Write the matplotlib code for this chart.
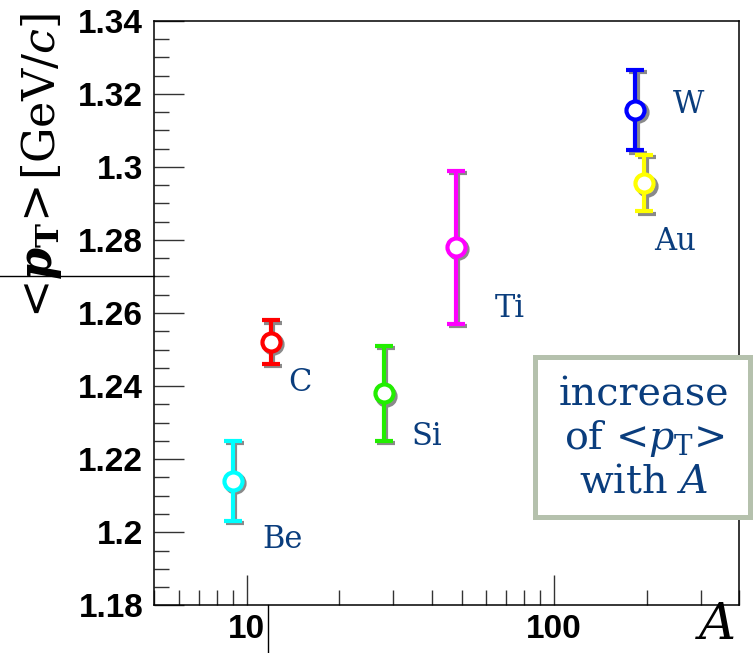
import matplotlib
matplotlib.use("Agg")
import matplotlib.pyplot as plt
import matplotlib.ticker as ticker
from matplotlib.transforms import offset_copy
from matplotlib.patches import Rectangle

plt.rcParams['mathtext.fontset'] = 'dejavuserif'

# mean pT vs nuclear mass number
nuclei = ["Be", "C", "Si", "Ti", "W", "Au"]
mass_A = [9, 12, 28, 48, 184, 197]
mean_pt = [1.214, 1.252, 1.238, 1.278, 1.3155, 1.2955]
pt_err = [0.011, 0.006, 0.013, 0.021, 0.011, 0.0077]
colors = ["#00ffff", "#ff0000", "#22ee00", "#ff00ff", "#0000ff", "#ffff00"]
# where each nucleus name sits relative to its point (points)
name_offsets = [(36, -42), (21, -29), (31, -31), (39, -44), (38, 4), (22, -42)]

yticks = [1.18, 1.2, 1.22, 1.24, 1.26, 1.28, 1.3, 1.32, 1.34]
label_blue = "#0a3d7d"

fig = plt.figure(figsize=(7.53, 6.53), dpi=100)
ax = fig.add_axes([0.2049, 0.0730, 0.7765, 0.8953])
ax.set_xscale("log")
ax.set_xlim(5, 400)
ax.set_ylim(1.18, 1.34)

# gray drop shadow shifted a couple of pixels right/down
shadow = offset_copy(ax.transData, fig=fig, x=2.2, y=-2.2, units='dots')
for i in range(len(nuclei)):
    ax.errorbar(mass_A[i], mean_pt[i], yerr=pt_err[i], fmt='o', color="#8a8a8a",
                ms=13, mfc='none', mec="#8a8a8a", mew=3, elinewidth=3,
                capsize=6.5, capthick=3, transform=shadow, zorder=2)
    ax.errorbar(mass_A[i], mean_pt[i], yerr=pt_err[i], fmt='o', color=colors[i],
                ms=13, mfc='white', mec=colors[i], mew=3, elinewidth=3,
                capsize=6.5, capthick=3, zorder=3)
    ax.annotate(nuclei[i], (mass_A[i], mean_pt[i]), xytext=name_offsets[i],
                textcoords='offset points', ha='center', va='center',
                fontsize=22, family='DejaVu Serif', color=label_blue)

ax.set_yticks(yticks)
ax.yaxis.set_minor_locator(ticker.MultipleLocator(0.005))
ax.yaxis.set_major_formatter(ticker.FuncFormatter(lambda v, p: "{:g}".format(round(v, 3))))
ax.xaxis.set_major_locator(ticker.LogLocator(base=10))
ax.xaxis.set_minor_locator(ticker.LogLocator(base=10, subs=range(2, 10)))
ax.xaxis.set_minor_formatter(ticker.NullFormatter())
ax.xaxis.set_major_formatter(ticker.FuncFormatter(lambda v, p: "{:g}".format(v)))

ax.tick_params(which='both', direction='in', top=False, right=False, width=1, color="#333333")
ax.tick_params(which='major', length=21.5)
ax.tick_params(which='minor', length=10.5)
ax.tick_params(axis='y', which='major', pad=8)
ax.tick_params(axis='x', which='major', pad=6)
for lab in ax.get_xticklabels() + ax.get_yticklabels():
    lab.set_family('Liberation Sans')
    lab.set_fontsize(24)
    lab.set_fontweight('bold')
for sp in ax.spines.values():
    sp.set_linewidth(1.1)

# stray cross-hair lines
ax.axhline(1.27, xmin=-0.264, xmax=0, color='black', lw=1, clip_on=False)
ax.axvline(11.7, ymin=-0.082, ymax=0, color='black', lw=1, clip_on=False)

# axis titles
fig.text(0.056, 1 - 13 / 653, "[GeV/$c$]", rotation=90, ha='center', va='top',
         fontsize=32, family='DejaVu Serif')
fig.text(0.055, 1 - 186 / 653, r"<$\mathbfit{p}_{\mathbf{T}}$>", rotation=90,
         ha='center', va='top', fontsize=33, family='DejaVu Serif')
fig.text(0.977, 0.005, "$A$", ha='right', va='bottom', fontsize=37)

# summary box
fig.add_artist(Rectangle((0.7105, 0.2083), 0.2855, 0.2455, transform=fig.transFigure,
                         facecolor='white', edgecolor='#b5c1ad', lw=3.6, zorder=5))
fig.text(0.855, 0.329, "increase\nof <$p_{\\mathrm{T}}$>\nwith $A$", ha='center',
         va='center', multialignment='center', fontsize=28.5, family='DejaVu Serif',
         color=label_blue, linespacing=1.15, zorder=6)

fig.savefig("out.png", dpi=100)
